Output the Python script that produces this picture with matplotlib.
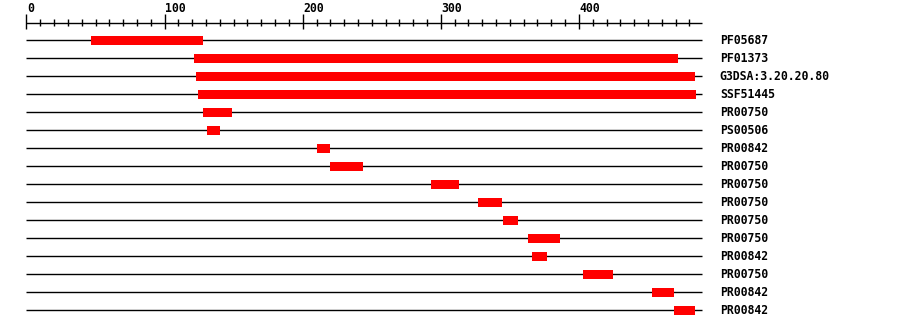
import matplotlib
matplotlib.use('Agg')
import matplotlib.pyplot as plt

# Sequence length and domain hits (start, end)
SEQ_LEN = 489
labels = ['PF05687', 'PF01373', 'G3DSA:3.20.20.80', 'SSF51445',
          'PR00750', 'PS00506', 'PR00842', 'PR00750', 'PR00750', 'PR00750',
          'PR00750', 'PR00750', 'PR00842', 'PR00750', 'PR00842', 'PR00842']
starts = [47, 121, 123, 124, 128, 131, 210, 220, 293, 327, 345, 363, 366, 403, 453, 469]
ends = [128, 472, 484, 485, 149, 140, 220, 244, 313, 344, 356, 386, 377, 425, 469, 484]
major_ticks = [0, 100, 200, 300, 400]
minor_ticks = list(range(0, 490, 10))

# Pixel layout
W, H, DPI = 900, 328, 100
X0, SCALE = 26.5, 1.381          # px of position 0, px per residue
ROW0, ROW_STEP = 40, 18          # px of first row, px between rows
RULER_Y = 23

fig = plt.figure(figsize=(W / DPI, H / DPI), dpi=DPI)
ax = fig.add_axes([0, 0, 1, 1])
ax.set_xlim(-X0 / SCALE, (W - X0) / SCALE)
ax.set_ylim(H, 0)
ax.axis('off')

font = dict(family='DejaVu Sans Mono', fontweight='bold', fontsize=8.3)

# Ruler
ax.hlines(RULER_Y, 0, SEQ_LEN, color='black', lw=1.0)
for t in minor_ticks:
    if t in major_ticks:
        ax.vlines(t, 14, 29, color='black', lw=1.0)
    else:
        ax.vlines(t, 19, 26, color='black', lw=1.0)
for t in major_ticks:
    ax.text(t + 0.5, 12, str(t), ha='left', va='baseline', **font)

# Rows
for i, (lab, s, e) in enumerate(zip(labels, starts, ends)):
    y = ROW0 + ROW_STEP * i
    ax.hlines(y, 0, SEQ_LEN, color='black', lw=1.0, zorder=1)
    ax.barh(y, e - s, left=s, height=9, color='#ff0000', zorder=2)
    ax.text(502, y, lab, ha='left', va='center', **font)

fig.savefig('out.png', dpi=DPI)
